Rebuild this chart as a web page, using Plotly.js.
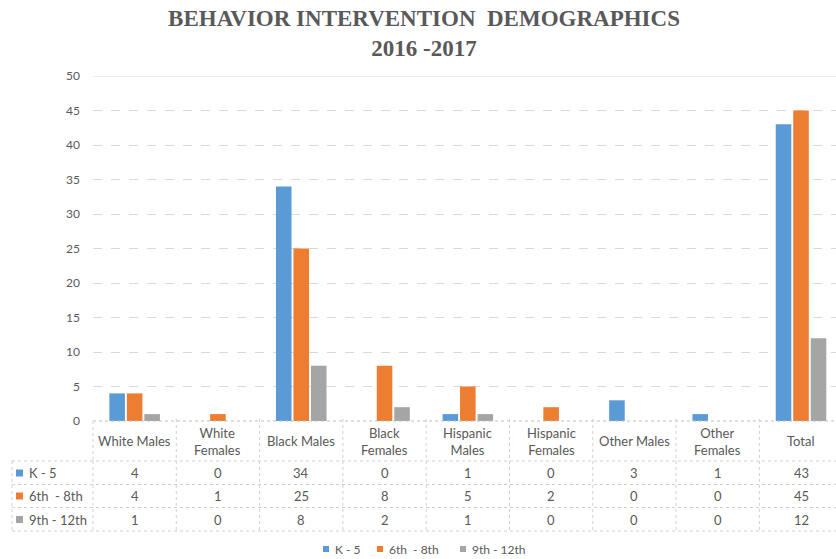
<!DOCTYPE html>
<html>
<head>
<meta charset="utf-8">
<script src="https://cdn.plot.ly/plotly-3.0.1.min.js"></script>
<style>html,body{margin:0;padding:0;background:#fff;overflow:hidden}</style>
</head>
<body>
<div id="chart" style="width:836px;height:559px"></div>
<script>
var categories = ['White Males','White Females','Black Males','Black Females','Hispanic Males','Hispanic Females','Other Males','Other Females','Total'];
var headerLabels = ['White Males','White<br>Females','Black Males','Black<br>Females','Hispanic<br>Males','Hispanic<br>Females','Other Males','Other<br>Females','Total'];
var seriesNames = ['K - 5','6th  - 8th','9th - 12th'];
var k5 = [4,0,34,0,1,0,3,1,43];
var g6to8 = [4,1,25,8,5,2,0,0,45];
var g9to12 = [1,0,8,2,1,0,0,0,12];
var yTicks = [0,5,10,15,20,25,30,35,40,45,50];

var colors = ['#5B9BD5','#ED7D31','#A5A5A5'];
var allSeries = [k5, g6to8, g9to12];

var W = 836, H = 559, ML = 93, MR = 0, MT = 76, MB = 138;
var PW = W - ML - MR, PH = H - MT - MB;
var xr = [-0.5, 8.42];
function px2x(px){ return (px - ML) / PW; }
function py2y(py){ return (H - MB - py) / PH; }
function cat2paper(c){ return (c - xr[0]) / (xr[1] - xr[0]); }

var traces = allSeries.map(function(vals, i){
  return {
    type: 'bar', x: categories, y: vals, name: seriesNames[i],
    marker: {color: colors[i]}, showlegend: false, hoverinfo: 'y'
  };
});

var textColor = '#595959';
var font = 'Lato, "Liberation Sans", sans-serif';
var lineCol = '#D0D0D0';

var shapes = [];
var annotations = [];
var rowTops = [421, 461, 484.5, 507.5, 531];
var tableLeft = 12;
shapes.push({type:'line', xref:'paper', yref:'y', x0:0, x1:1, y0:50, y1:50, line:{color:'#D9D9D9', width:1}});
shapes.push({type:'line', xref:'paper', yref:'paper', x0:0, x1:1, y0:0, y1:0, line:{color:'#BFBFBF', width:1, dash:'dot'}});
for (var r = 1; r < rowTops.length; r++) {
  shapes.push({type:'line', xref:'paper', yref:'paper', x0:px2x(tableLeft), x1:1, y0:py2y(rowTops[r]), y1:py2y(rowTops[r]), line:{color:lineCol, width:1, dash:'dot'}});
}
shapes.push({type:'line', xref:'paper', yref:'paper', x0:0, x1:0, y0:0, y1:py2y(rowTops[1]), line:{color:lineCol, width:1, dash:'dot'}});
shapes.push({type:'line', xref:'paper', yref:'paper', x0:px2x(tableLeft), x1:px2x(tableLeft), y0:py2y(rowTops[1]), y1:py2y(rowTops[4]), line:{color:lineCol, width:1, dash:'dot'}});
shapes.push({type:'line', xref:'paper', yref:'paper', x0:0, x1:0, y0:py2y(rowTops[1]), y1:py2y(rowTops[4]), line:{color:lineCol, width:1, dash:'dot'}});
for (var c = 0; c < categories.length - 1; c++) {
  var xp = cat2paper(c + 0.5);
  shapes.push({type:'line', xref:'paper', yref:'paper', x0:xp, x1:xp, y0:0.006, y1:py2y(rowTops[4]), line:{color:lineCol, width:1, dash:'dot'}});
}
headerLabels.forEach(function(lbl, i){
  annotations.push({xref:'x', yref:'paper', x:categories[i], y:py2y(441), text:lbl, showarrow:false,
    xanchor:'center', yanchor:'middle', font:{family:font, size:13, color:textColor}});
});
var rowCenters = [473, 496, 519.5];
allSeries.forEach(function(vals, s){
  var yc = py2y(rowCenters[s]);
  shapes.push({type:'rect', xref:'paper', yref:'paper', x0:px2x(16), x1:px2x(23),
    y0:yc - 3.5/PH, y1:yc + 3.5/PH, fillcolor:colors[s], line:{width:0}});
  annotations.push({xref:'paper', yref:'paper', x:px2x(27), y:yc, text:seriesNames[s].replace('  ','&nbsp; '), showarrow:false,
    xanchor:'left', yanchor:'middle', font:{family:font, size:13, color:textColor}});
  vals.forEach(function(v, i){
    annotations.push({xref:'x', yref:'paper', x:categories[i], y:yc, text:String(v), showarrow:false,
      xanchor:'center', yanchor:'middle', font:{family:font, size:13, color:textColor}});
  });
});
var legX = [323, 377, 460];
seriesNames.forEach(function(n, s){
  var yc = py2y(549);
  shapes.push({type:'rect', xref:'paper', yref:'paper', x0:px2x(legX[s]), x1:px2x(legX[s]+6),
    y0:yc - 3/PH, y1:yc + 3/PH, fillcolor:colors[s], line:{width:0}});
  annotations.push({xref:'paper', yref:'paper', x:px2x(legX[s]+10), y:yc, text:n.replace('  ','&nbsp; '), showarrow:false,
    xanchor:'left', yanchor:'middle', font:{family:font, size:12, color:textColor}});
});

var layout = {
  width: W, height: H,
  margin: {l: ML, r: MR, t: MT, b: MB},
  paper_bgcolor: '#fff', plot_bgcolor: '#fff',
  title: {text: 'BEHAVIOR INTERVENTION&nbsp; DEMOGRAPHICS<br>2016 -2017', xref:'container', yref:'container',
    x: 424/836, y: 1 - 26/559, xanchor:'center', yanchor:'middle',
    font: {family: '"Liberation Serif", "Times New Roman", serif', size: 23, color: '#595959', weight: 'bold'}},
  barmode: 'group', bargap: 0.37, bargroupgap: 0.11,
  showlegend: false,
  xaxis: {type:'category', range: xr, showticklabels:false, showgrid:false, zeroline:false, showline:false, fixedrange:true},
  yaxis: {range:[0,50], tickvals: yTicks, showgrid:true, gridcolor:'#D9D9D9', griddash:'dash', zeroline:false, showline:false,
    ticks:'', ticklabelstandoff: 12, tickfont:{family:font, size:12, color:textColor}},
  shapes: shapes, annotations: annotations
};
Plotly.newPlot('chart', traces, layout, {displayModeBar:false, staticPlot:true});
</script>
</body>
</html>
